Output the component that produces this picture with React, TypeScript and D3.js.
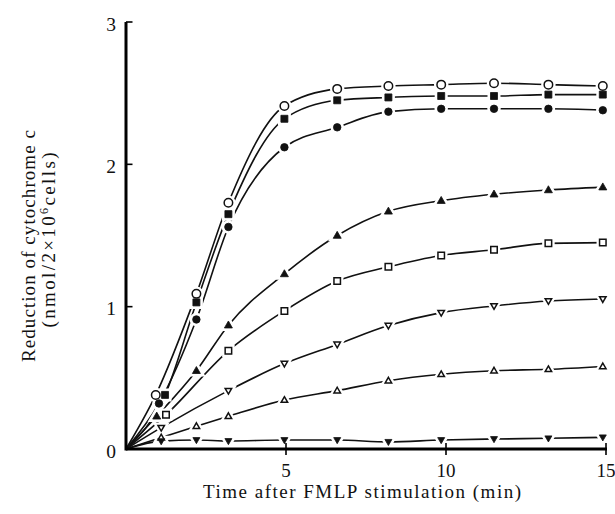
import React from "react";
import * as d3 from "d3";

const times = [1, 2.2, 3.2, 4.95, 6.6, 8.2, 9.85, 11.5, 13.2, 14.9];

const openCircleFirstT = 0.93;
const openCircle = [0.38, 1.09, 1.73, 2.41, 2.53, 2.55, 2.56, 2.57, 2.56, 2.55];
const filledSquareFirstT = 1.22;
const filledSquare = [0.38, 1.03, 1.65, 2.32, 2.45, 2.47, 2.48, 2.48, 2.49, 2.49];
const filledCircleFirstT = 1.03;
const filledCircle = [0.32, 0.91, 1.56, 2.12, 2.26, 2.37, 2.39, 2.39, 2.39, 2.38];
const filledTriUpFirstT = 0.96;
const filledTriUp = [0.23, 0.55, 0.87, 1.23, 1.5, 1.67, 1.745, 1.79, 1.82, 1.84];
const openSquareFirstT = 1.25;
const openSquare = [0.24, null, 0.69, 0.97, 1.18, 1.28, 1.36, 1.4, 1.445, 1.45];
const openTriDownFirstT = 1.1;
const openTriDown = [0.15, null, 0.41, 0.6, 0.735, 0.867, 0.958, 1.005, 1.04, 1.054];
const openTriUpFirstT = 1.1;
const openTriUp = [0.08, 0.16, 0.23, 0.344, 0.41, 0.48, 0.525, 0.55, 0.56, 0.58];
const filledTriDownFirstT = 1.1;
const filledTriDown = [0.055, 0.063, 0.056, 0.063, 0.063, 0.05, 0.063, 0.07, 0.075, 0.082];

const xTicks = [5, 10, 15];
const yTicks = [0, 1, 2, 3];

type Shape = "circle" | "square" | "triUp" | "triDown";
const series: { vals: (number | null)[]; firstT: number; shape: Shape; filled: boolean; size: number }[] = [
  { vals: openCircle, firstT: openCircleFirstT, shape: "circle", filled: false, size: 8.5 },
  { vals: filledSquare, firstT: filledSquareFirstT, shape: "square", filled: true, size: 7 },
  { vals: filledCircle, firstT: filledCircleFirstT, shape: "circle", filled: true, size: 7.5 },
  { vals: filledTriUp, firstT: filledTriUpFirstT, shape: "triUp", filled: true, size: 8 },
  { vals: openSquare, firstT: openSquareFirstT, shape: "square", filled: false, size: 6.5 },
  { vals: openTriDown, firstT: openTriDownFirstT, shape: "triDown", filled: false, size: 6.5 },
  { vals: openTriUp, firstT: openTriUpFirstT, shape: "triUp", filled: false, size: 6.5 },
  { vals: filledTriDown, firstT: filledTriDownFirstT, shape: "triDown", filled: true, size: 7 },
];

const x = d3.scaleLinear().domain([0, 15]).range([126, 606]);
const y = d3.scaleLinear().domain([0, 3]).range([449, 22]);

function markerPath(shape: Shape, s: number): string {
  const h = s / 2;
  if (shape === "circle") {
    return `M${-h},0A${h},${h} 0 1,0 ${h},0A${h},${h} 0 1,0 ${-h},0Z`;
  }
  if (shape === "square") return `M${-h},${-h}H${h}V${h}H${-h}Z`;
  const th = s * 0.87;
  if (shape === "triUp") return `M0,${-th * 0.6}L${h},${th * 0.4}L${-h},${th * 0.4}Z`;
  return `M0,${th * 0.6}L${h},${-th * 0.4}L${-h},${-th * 0.4}Z`;
}

const serif = '"Liberation Serif", "Times New Roman", Tinos, Times, "DejaVu Serif", serif';
const textStyle = { fontFamily: serif };

export default function App() {
  const line = d3
    .line<[number, number]>()
    .x((d) => x(d[0]))
    .y((d) => y(d[1]))
    .curve(d3.curveMonotoneX);

  const pts = series.map((s) => {
    const p: [number, number][] = [];
    s.vals.forEach((v, i) => {
      if (v !== null) p.push([i === 0 ? s.firstT : times[i], v]);
    });
    return p;
  });

  return (
    <svg width={615} height={514} style={{ position: "absolute", left: 0, top: 0, background: "#fff" }}>
      <rect width={615} height={514} fill="#fff" />
      {pts.map((p, i) => (
        <path key={"l" + i} d={line([[0, 0], ...p]) || ""} fill="none" stroke="#111" strokeWidth={1.6} />
      ))}
      {series.map((s, i) =>
        pts[i].map((d, j) => (
          <path
            key={`h${i}-${j}`}
            d={markerPath(s.shape, s.size)}
            transform={`translate(${x(d[0])},${y(d[1])})`}
            fill="#fff"
            stroke="#fff"
            strokeWidth={6}
          />
        ))
      )}
      <line x1={x(0)} x2={x(15) + 1} y1={y(0)} y2={y(0)} stroke="#000" strokeWidth={3} />
      <line x1={x(0)} x2={x(0)} y1={y(0) + 1.5} y2={y(3)} stroke="#000" strokeWidth={3} />
      {xTicks.map((t) => (
        <g key={"xt" + t}>
          <line x1={x(t)} x2={x(t)} y1={y(0) - 6} y2={y(0) + 6} stroke="#000" strokeWidth={1.6} />
          <text x={x(t)} y={477} style={textStyle} fontSize={19} textAnchor="middle" fill="#111">
            {t}
          </text>
        </g>
      ))}
      {yTicks.map((t) => (
        <g key={"yt" + t}>
          {t > 0 && <line x1={x(0)} x2={x(0) + 6.5} y1={y(t)} y2={y(t)} stroke="#000" strokeWidth={1.6} />}
          <text x={116} y={y(t) + 8.5} style={textStyle} fontSize={19.5} textAnchor="end" fill="#111">
            {t}
          </text>
        </g>
      ))}
      {series.map((s, i) =>
        pts[i].map((d, j) => (
          <path
            key={`m${i}-${j}`}
            d={markerPath(s.shape, s.size)}
            transform={`translate(${x(d[0])},${y(d[1])})`}
            fill={s.filled ? "#111" : "#fff"}
            stroke="#111"
            strokeWidth={s.filled ? 0.8 : 1.5}
          />
        ))
      )}
      <text
        x={362}
        y={498}
        style={textStyle}
        fontSize={19}
        textAnchor="middle"
        fill="#111"
        textLength={318}
        lengthAdjust="spacing"
      >
        Time after FMLP stimulation (min)
      </text>
      <text
        transform="translate(35,246) rotate(-90)"
        style={textStyle}
        fontSize={19}
        textAnchor="middle"
        fill="#111"
        textLength={232}
        lengthAdjust="spacing"
      >
        Reduction of cytochrome c
      </text>
      <text
        transform="translate(55,240) rotate(-90)"
        style={textStyle}
        fontSize={19}
        textAnchor="middle"
        fill="#111"
        textLength={175}
        lengthAdjust="spacing"
      >
        (nmol/2×10
        <tspan fontSize={12} dy={-7}>
          6
        </tspan>
        <tspan dy={7}>cells)</tspan>
      </text>
    </svg>
  );
}
